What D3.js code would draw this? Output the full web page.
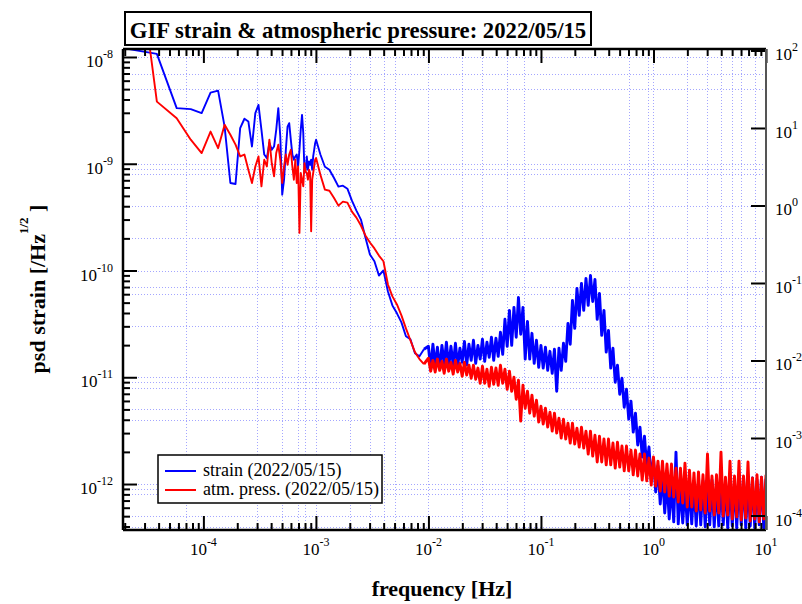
<!DOCTYPE html>
<html>
<head>
<meta charset="utf-8">
<script src="https://cdn.jsdelivr.net/npm/d3@7"></script>
<style>
  body { margin: 0; background: #fff; }
  text { font-family: "Liberation Serif", "Times New Roman", serif; }
</style>
</head>
<body>
<svg id="chart" width="802" height="604"></svg>
<script>
// ---- spectra: frequency bins [Hz] and amplitude spectral densities ----
// lowest bins (bin width ~1.93e-5 Hz)
const freqLow = [
  1.93e-5, 3.86e-5, 5.79e-5, 7.72e-5, 9.65e-5, 1.158e-4, 1.351e-4, 1.544e-4, 1.737e-4, 1.93e-4,
  2.123e-4, 2.316e-4, 2.509e-4, 2.702e-4, 2.895e-4, 3.088e-4, 3.281e-4, 3.474e-4, 3.667e-4, 3.86e-4,
  4.053e-4, 4.246e-4, 4.439e-4, 4.632e-4, 4.825e-4, 5.018e-4, 5.211e-4, 5.404e-4, 5.597e-4, 5.79e-4,
  5.983e-4, 6.176e-4, 6.369e-4, 6.562e-4, 6.755e-4, 6.948e-4, 7.141e-4, 7.334e-4, 7.527e-4, 7.72e-4,
  7.913e-4, 8.106e-4, 8.299e-4, 8.492e-4, 8.685e-4, 8.878e-4, 9.071e-4, 9.264e-4, 9.457e-4, 9.65e-4,
  9.843e-4, 1.0036e-3
];
const strainLow = [
  1.21e-8, 1.07e-8, 3.32e-9, 3.25e-9, 2.98e-9, 4.64e-9, 4.84e-9, 2.23e-9, 6.6e-10, 6.46e-10,
  2.16e-9, 2.64e-9, 2.49e-9, 1.45e-9, 2.98e-9, 3.56e-9, 2.08e-9, 1.22e-9, 1.13e-9, 1.57e-9,
  1.35e-9, 1.45e-9, 2.08e-9, 3.32e-9, 1.80e-9, 5.13e-10, 7.09e-10, 1.35e-9, 2.23e-9, 2.40e-9,
  1.68e-9, 1.22e-9, 1.09e-9, 1.17e-9, 1.22e-9, 9.43e-10, 1.35e-9, 2.08e-9, 2.87e-9, 1.94e-9,
  8.19e-10, 8.79e-10, 1.17e-9, 8.79e-10, 1.05e-9, 9.79e-10, 1.09e-9, 8.79e-10, 1.17e-9, 1.35e-9,
  1.56e-9, 1.68e-9
];
const pressLow = [
  1.0e-6, 3.82e-9, 2.67e-9, 1.68e-9, 1.26e-9, 2.0e-9, 1.40e-9, 2.32e-9, 1.87e-9, 1.51e-9,
  1.17e-9, 1.22e-9, 8.79e-10, 6.6e-10, 9.43e-10, 1.17e-9, 6.14e-10, 1.09e-9, 9.43e-10, 1.68e-9,
  1.01e-9, 7.61e-10, 1.26e-9, 1.51e-9, 1.09e-9, 6.6e-10, 9.43e-10, 1.22e-9, 9.79e-10, 1.22e-9,
  1.35e-9, 9.43e-10, 7.09e-10, 1.09e-9, 6.6e-10, 9.43e-10, 2.25e-10, 8.19e-10, 7.09e-10, 6.14e-10,
  1.01e-9, 8.47e-10, 8.19e-10, 7.09e-10, 8.79e-10, 8.19e-10, 2.33e-10, 7.09e-10, 8.19e-10, 9.43e-10,
  1.09e-9, 1.13e-9
];

// 1 mHz - 10 mHz
const freqMid = [
  1.096e-3, 1.202e-3, 1.318e-3, 1.445e-3, 1.585e-3, 1.738e-3, 1.905e-3, 2.089e-3, 2.291e-3, 2.512e-3,
  2.754e-3, 3.020e-3, 3.311e-3, 3.631e-3, 3.981e-3, 4.365e-3, 4.786e-3, 5.248e-3, 5.754e-3, 6.310e-3,
  6.918e-3, 7.586e-3, 8.318e-3, 9.120e-3
];
const strainMid = [
  1.22e-9, 9.37e-10, 8.79e-10, 7.40e-10, 6.10e-10, 6.23e-10, 5.84e-10, 4.51e-10, 3.64e-10, 3.0e-10,
  2.04e-10, 1.41e-10, 1.22e-10, 8.98e-11, 1.0e-10, 6.36e-11, 4.71e-11, 3.97e-11, 3.27e-11, 2.42e-11,
  2.27e-11, 1.68e-11, 1.57e-11, 1.83e-11
];
const pressMid = [
  7.89e-10, 5.72e-10, 5.59e-10, 4.81e-10, 4.05e-10, 4.42e-10, 4.32e-10, 3.56e-10, 3.13e-10, 2.64e-10,
  2.13e-10, 1.83e-10, 1.61e-10, 1.38e-10, 1.22e-10, 7.40e-11, 5.72e-11, 4.81e-11, 3.80e-11, 2.87e-11,
  2.22e-11, 1.72e-11, 1.48e-11, 1.33e-11
];

// 10 mHz - 10 Hz
const freqHigh = [
  0.01, 0.01047, 0.01096, 0.01148, 0.01202, 0.01259, 0.01318, 0.0138, 0.01445, 0.01514,
  0.01585, 0.0166, 0.01738, 0.0182, 0.01905, 0.01995, 0.02089, 0.02188, 0.02291, 0.02399,
  0.02512, 0.0263, 0.02754, 0.02884, 0.0302, 0.03162, 0.03311, 0.03467, 0.03631, 0.03802,
  0.03981, 0.04169, 0.04365, 0.04571, 0.04786, 0.05012, 0.05248, 0.05495, 0.05754, 0.06026,
  0.0631, 0.06607, 0.06918, 0.07244, 0.07586, 0.07943, 0.08318, 0.0871, 0.0912, 0.0955,
  0.1, 0.1047, 0.1096, 0.1148, 0.1202, 0.1259, 0.1318, 0.138, 0.1445, 0.1514,
  0.1585, 0.166, 0.1738, 0.182, 0.1905, 0.1995, 0.2089, 0.2188, 0.2291, 0.2399,
  0.2512, 0.263, 0.2754, 0.2884, 0.302, 0.3162, 0.3311, 0.3467, 0.3631, 0.3802,
  0.3981, 0.4169, 0.4365, 0.4571, 0.4786, 0.5012, 0.5248, 0.5495, 0.5754, 0.6026,
  0.631, 0.6607, 0.6918, 0.7244, 0.7586, 0.7943, 0.8318, 0.871, 0.912, 0.955,
  1.0, 1.047, 1.096, 1.148, 1.202, 1.259, 1.318, 1.38, 1.445, 1.514,
  1.585, 1.66, 1.738, 1.82, 1.905, 1.995, 2.089, 2.188, 2.291, 2.399,
  2.512, 2.63, 2.754, 2.884, 3.02, 3.162, 3.311, 3.467, 3.631, 3.802,
  3.981, 4.169, 4.365, 4.571, 4.786, 5.012, 5.248, 5.495, 5.754, 6.026,
  6.31, 6.607, 6.918, 7.244, 7.586, 7.943, 8.318, 8.71, 9.12, 9.55,
  10.0
];
const strainHigh = [
  1.95e-11, 1.19e-11, 2.04e-11, 1.27e-11, 1.91e-11, 1.19e-11, 1.99e-11, 1.33e-11, 2.13e-11, 1.24e-11,
  1.95e-11, 1.30e-11, 2.08e-11, 1.27e-11, 1.87e-11, 1.38e-11, 2.17e-11, 1.30e-11, 2.04e-11, 1.44e-11,
  2.22e-11, 1.35e-11, 1.99e-11, 1.48e-11, 2.27e-11, 1.41e-11, 2.13e-11, 1.54e-11, 2.37e-11, 1.44e-11,
  2.32e-11, 1.57e-11, 2.64e-11, 1.64e-11, 3.49e-11, 1.95e-11, 4.23e-11, 1.99e-11, 4.51e-11, 2.37e-11,
  5.59e-11, 2.53e-11, 4.51e-11, 1.48e-11, 3.34e-11, 1.48e-11, 2.58e-11, 1.35e-11, 2.22e-11, 1.24e-11,
  1.99e-11, 1.22e-11, 1.91e-11, 1.16e-11, 1.75e-11, 1.09e-11, 1.83e-11, 7.40e-12, 1.87e-11, 1.16e-11,
  2.08e-11, 1.41e-11, 3.20e-11, 2.04e-11, 5.24e-11, 2.87e-11, 6.79e-11, 3.80e-11, 7.56e-11, 4.23e-11,
  8.42e-11, 4.71e-11, 8.98e-11, 5.13e-11, 8.24e-11, 3.49e-11, 6.10e-11, 2.47e-11, 4.23e-11, 1.72e-11,
  2.75e-11, 1.22e-11, 1.87e-11, 8.98e-12, 1.30e-11, 6.94e-12, 9.79e-12, 5.24e-12, 7.72e-12, 4.05e-12,
  5.97e-12, 3.06e-12, 4.61e-12, 2.32e-12, 3.41e-12, 1.79e-12, 2.81e-12, 1.44e-12, 2.22e-12, 1.09e-12,
  1.75e-12, 8.42e-13, 1.48e-12, 6.50e-13, 1.24e-12, 5.36e-13, 1.09e-12, 4.71e-13, 1.0e-12, 4.42e-13,
  1.99e-12, 4.23e-13, 9.37e-13, 4.32e-13, 9.58e-13, 4.14e-13, 9.79e-13, 4.23e-13, 1.02e-12, 4.05e-13,
  1.05e-12, 4.14e-13, 1.07e-12, 3.97e-13, 1.05e-12, 4.14e-13, 1.09e-12, 3.97e-13, 1.02e-12, 4.05e-13,
  1.12e-12, 4.14e-13, 1.07e-12, 3.88e-13, 1.14e-12, 4.05e-13, 1.05e-12, 3.88e-13, 1.12e-12, 4.14e-13,
  1.16e-12, 3.88e-13, 1.07e-12, 4.05e-13, 1.14e-12, 3.88e-13, 1.09e-12, 4.14e-13, 1.16e-12, 3.88e-13,
  1.12e-12
];
const pressHigh = [
  1.51e-11, 1.14e-11, 1.44e-11, 1.12e-11, 1.48e-11, 1.16e-11, 1.41e-11, 1.09e-11, 1.48e-11, 1.14e-11,
  1.38e-11, 1.07e-11, 1.44e-11, 1.12e-11, 1.35e-11, 1.02e-11, 1.38e-11, 1.05e-11, 1.30e-11, 9.79e-12,
  1.30e-11, 9.58e-12, 1.22e-11, 8.79e-12, 1.27e-11, 8.79e-12, 1.19e-11, 8.24e-12, 1.24e-11, 8.60e-12,
  1.22e-11, 8.42e-12, 1.30e-11, 8.79e-12, 1.19e-11, 7.72e-12, 1.14e-11, 7.40e-12, 1.0e-11, 6.23e-12,
  9.37e-12, 3.88e-12, 8.42e-12, 5.13e-12, 7.40e-12, 4.61e-12, 6.79e-12, 4.32e-12, 6.10e-12, 3.80e-12,
  5.36e-12, 3.64e-12, 5.13e-12, 3.41e-12, 4.71e-12, 3.13e-12, 4.61e-12, 3.00e-12, 4.14e-12, 2.69e-12,
  4.05e-12, 2.64e-12, 3.72e-12, 2.42e-12, 3.72e-12, 2.37e-12, 3.34e-12, 2.22e-12, 3.41e-12, 2.17e-12,
  3.13e-12, 1.91e-12, 3.13e-12, 1.83e-12, 2.87e-12, 1.61e-12, 2.81e-12, 1.61e-12, 2.64e-12, 1.51e-12,
  2.64e-12, 1.51e-12, 2.42e-12, 1.41e-12, 2.47e-12, 1.44e-12, 2.27e-12, 1.33e-12, 2.27e-12, 1.33e-12,
  2.08e-12, 1.22e-12, 2.08e-12, 1.19e-12, 1.91e-12, 1.09e-12, 1.91e-12, 1.07e-12, 1.75e-12, 9.79e-13,
  1.79e-12, 9.58e-13, 1.64e-12, 8.60e-13, 1.64e-12, 8.42e-13, 1.54e-12, 7.72e-13, 1.54e-12, 7.56e-13,
  1.41e-12, 6.79e-13, 1.41e-12, 6.64e-13, 1.57e-12, 6.10e-13, 1.35e-12, 6.10e-13, 1.27e-12, 5.59e-13,
  1.30e-12, 5.72e-13, 1.22e-12, 5.36e-13, 1.91e-12, 5.59e-13, 1.19e-12, 5.13e-13, 1.22e-12, 5.36e-13,
  1.99e-12, 5.02e-13, 1.16e-12, 5.13e-13, 1.64e-12, 4.71e-13, 1.19e-12, 4.92e-13, 1.64e-12, 4.61e-13,
  1.19e-12, 4.81e-13, 1.61e-12, 4.51e-13, 1.14e-12, 4.71e-13, 1.22e-12, 4.42e-13, 1.16e-12, 4.71e-13,
  1.22e-12
];

// ---- axis labels and grid ----
const xTickExps = [-4, -3, -2, -1, 0, 1];
const yLeftExps = [-8, -9, -10, -11, -12];
const yRightExps = [2, 1, 0, -1, -2, -3, -4];
const gridFreqs = [7e-5, 3e-4, 5e-4, 7e-4, 8e-4, 1e-3, 2e-3, 3e-3, 4e-3, 5e-3, 1e-2, 2e-2, 3e-2,
                   5e-2, 7e-2, 0.6, 0.9, 1, 2, 3, 4, 5, 6, 8];
const gridPsd = [1e-8, 7e-9, 5e-9, 1e-9, 9e-10, 8e-10, 4e-10, 2e-10, 1e-10, 7e-11, 6e-11, 3e-11,
                 1e-11, 9e-12, 8e-12, 5e-12, 4e-12, 1e-12, 9e-13, 8e-13, 5e-13, 4e-13];

const titleText = "GIF strain & atmospheric pressure: 2022/05/15";
const seriesNames = ["strain (2022/05/15)", "atm. press. (2022/05/15)"];
const seriesColors = ["#0000ff", "#ff0000"];

// ---- layout ----
const plot = { left: 123, right: 766, top: 49, bottom: 530 };
const svg = d3.select("#chart");

const x = d3.scaleLog().domain([1.93e-5, 10]).range([plot.left, plot.right]);
const yL = d3.scaleLog().domain([3.71e-13, 1.188e-8]).range([plot.bottom, plot.top]);
const yR = d3.scaleLog().domain([6.5e-5, 104.5]).range([plot.bottom, plot.top]);

// grid (dotted)
const grid = svg.append("g").attr("stroke", "#a4a6ff").attr("stroke-width", 1)
  .attr("stroke-dasharray", "1,2").attr("shape-rendering", "crispEdges");
grid.selectAll("line.gx").data(gridFreqs).join("line").attr("class", "gx")
  .attr("x1", d => Math.round(x(d)) + 0.5).attr("x2", d => Math.round(x(d)) + 0.5)
  .attr("y1", plot.top).attr("y2", plot.bottom);
grid.selectAll("line.gy").data(gridPsd).join("line").attr("class", "gy")
  .attr("y1", d => Math.round(yL(d)) + 0.5).attr("y2", d => Math.round(yL(d)) + 0.5)
  .attr("x1", plot.left).attr("x2", plot.right);

// series
svg.append("clipPath").attr("id", "plotClip").append("rect")
  .attr("x", plot.left).attr("y", plot.top)
  .attr("width", plot.right - plot.left).attr("height", plot.bottom - plot.top);

const zip = (f, v) => f.map((d, i) => [d, v[i]]);
const series = [
  { low: [...zip(freqLow, strainLow), ...zip(freqMid, strainMid)], high: zip(freqHigh, strainHigh) },
  { low: [...zip(freqLow, pressLow), ...zip(freqMid, pressMid)], high: zip(freqHigh, pressHigh) }
];

const line = d3.line().x(d => x(d[0])).y(d => yL(d[1]));
const gSeries = svg.append("g").attr("clip-path", "url(#plotClip)")
  .attr("fill", "none").attr("stroke-linejoin", "round");
series.forEach((s, i) => {
  // sparse low-frequency bins
  gSeries.append("path").datum(s.low).attr("d", line)
    .attr("stroke", seriesColors[i]).attr("stroke-width", 1.9);
  // densely sampled part, continuing from the last low-frequency bin
  gSeries.append("path").datum([s.low[s.low.length - 1], ...s.high]).attr("d", line)
    .attr("stroke", seriesColors[i]).attr("stroke-width", 2.9);
});

// axes: ticks point into the plot
function styleAxis(g, isMajor, majorLen, minorLen, sign, horizontal) {
  g.select(".domain").remove();
  g.selectAll(".tick line")
    .attr("stroke", "#000").attr("stroke-width", 2)
    .each(function (d) {
      const len = isMajor(d) ? majorLen : minorLen;
      d3.select(this).attr(horizontal ? "y2" : "x2", sign * len);
    });
  g.selectAll(".tick text").remove();
}
const isDecade = d => Math.abs(Math.log10(d) - Math.round(Math.log10(d))) < 1e-6;

const xTickVals = x.ticks();
const yTickVals = yL.ticks();

const gBottom = svg.append("g").attr("transform", `translate(0,${plot.bottom})`)
  .call(d3.axisBottom(x).tickValues(xTickVals).tickSizeOuter(0));
styleAxis(gBottom, isDecade, 14, 7, -1, true);
const gTop = svg.append("g").attr("transform", `translate(0,${plot.top})`)
  .call(d3.axisTop(x).tickValues(xTickVals).tickSizeOuter(0));
styleAxis(gTop, isDecade, 14, 7, 1, true);
const gLeft = svg.append("g").attr("transform", `translate(${plot.left},0)`)
  .call(d3.axisLeft(yL).tickValues(yTickVals).tickSizeOuter(0));
styleAxis(gLeft, isDecade, 14, 7, 1, false);
const gRight = svg.append("g").attr("transform", `translate(${plot.right},0)`)
  .call(d3.axisRight(yR).tickValues(yRightExps.map(e => Math.pow(10, e))).tickSizeOuter(0));
styleAxis(gRight, isDecade, 15, 15, -1, false);

// frame
svg.append("line").attr("x1", plot.left).attr("x2", plot.right).attr("y1", plot.bottom).attr("y2", plot.bottom)
  .attr("stroke", "#000").attr("stroke-width", 2.5);
svg.append("line").attr("x1", plot.left).attr("x2", plot.right).attr("y1", plot.top).attr("y2", plot.top)
  .attr("stroke", "#000").attr("stroke-width", 2.5);
svg.append("line").attr("x1", plot.left).attr("x2", plot.left).attr("y1", plot.top).attr("y2", plot.bottom)
  .attr("stroke", "#000").attr("stroke-width", 2.5);
svg.append("line").attr("x1", plot.right).attr("x2", plot.right).attr("y1", plot.top).attr("y2", plot.bottom)
  .attr("stroke", "#555").attr("stroke-width", 2);

// tick labels: 10 with superscript exponent
function powLabel(sel, e) {
  sel.text("10");
  sel.append("tspan").attr("dy", -9).attr("font-size", 12).text(String(e));
}
svg.append("g").selectAll("text").data(xTickExps).join("text")
  .attr("x", e => x(Math.pow(10, e))).attr("y", 555)
  .attr("text-anchor", "middle").attr("font-size", 17).attr("fill", "#000")
  .each(function (e) { powLabel(d3.select(this), e); });
svg.append("g").selectAll("text").data(yLeftExps).join("text")
  .attr("x", 113).attr("y", e => yL(Math.pow(10, e)) + 10)
  .attr("text-anchor", "end").attr("font-size", 17).attr("fill", "#000")
  .each(function (e) { powLabel(d3.select(this), e); });
svg.append("g").selectAll("text").data(yRightExps).join("text")
  .attr("x", 775).attr("y", e => yR(Math.pow(10, e)) + 10)
  .attr("text-anchor", "start").attr("font-size", 17).attr("fill", "#000")
  .each(function (e) { powLabel(d3.select(this), e); });

// axis titles
svg.append("text").attr("x", 442).attr("y", 596).attr("text-anchor", "middle")
  .attr("font-size", 22).attr("font-weight", "bold").text("frequency [Hz]");
const yTitle = svg.append("text").attr("transform", "translate(45,289) rotate(-90)")
  .attr("text-anchor", "middle").attr("font-size", 22).attr("font-weight", "bold");
yTitle.append("tspan").text("psd strain [/Hz");
yTitle.append("tspan").attr("dy", -17).attr("font-size", 13).text("1/2");
yTitle.append("tspan").attr("dy", 17).text(" ]");

// title box
svg.append("rect").attr("x", 125).attr("y", 12).attr("width", 466).attr("height", 33)
  .attr("fill", "#fff").attr("stroke", "#000").attr("stroke-width", 2);
svg.append("text").attr("x", 358).attr("y", 38).attr("text-anchor", "middle")
  .attr("font-size", 22.7).attr("font-weight", "bold").text(titleText);

// legend
const lg = svg.append("g");
lg.append("rect").attr("x", 158).attr("y", 455).attr("width", 224).attr("height", 48)
  .attr("fill", "#fff").attr("stroke", "#000").attr("stroke-width", 1.5);
seriesNames.forEach((name, i) => {
  const yy = 471 + i * 19;
  lg.append("line").attr("x1", 165).attr("x2", 196).attr("y1", yy).attr("y2", yy)
    .attr("stroke", seriesColors[i]).attr("stroke-width", 2);
  lg.append("text").attr("x", 203).attr("y", yy + 5).attr("font-size", 18).text(name);
});
</script>
</body>
</html>
